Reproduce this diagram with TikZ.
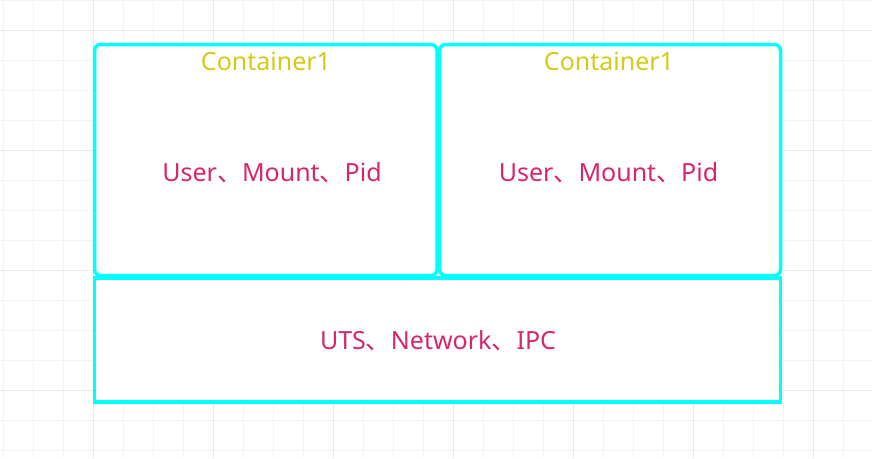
\documentclass[tikz,border=0pt]{standalone}
\usepackage{fontspec}
\setmainfont{Noto Sans}
\newfontfamily\cjk{Noto Sans CJK SC}
\usepackage{xcolor}
\usepackage{tikz}
\usetikzlibrary{positioning}
\definecolor{boxcyan}{RGB}{0,255,255}
\definecolor{titleyellow}{RGB}{212,202,24}
\definecolor{nspink}{RGB}{214,38,110}
\definecolor{gridminor}{RGB}{243,243,243}
\definecolor{gridmajor}{RGB}{232,232,232}
\newcommand{\dun}{{\cjk 、}}
\tikzset{nsbox/.style={draw=boxcyan,line width=3.5pt,rounded corners=6pt,anchor=north west,inner sep=0pt,outer sep=0pt},
  title/.style={text=titleyellow,font=\fontsize{25}{29}\selectfont,inner sep=0pt},
  nstext/.style={text=nspink,font=\fontsize{25}{29}\selectfont,inner sep=0pt}}

\begin{document}
\begin{tikzpicture}[x=1pt,y=-1pt]
        \useasboundingbox (0,0) rectangle (872,458);
        \fill[white] (0,0) rectangle (872,458);
        % grid
        \foreach \gx in {3.3,33.3,...,872} \draw[gridminor,line width=1.5pt] (\gx,0) -- (\gx,458);
        \foreach \gy in {0.7,30.7,...,458} \draw[gridminor,line width=1.5pt] (0,\gy) -- (872,\gy);
        \foreach \gx in {93.3,213.3,...,872} \draw[gridmajor,line width=1.5pt] (\gx,0) -- (\gx,458);
        \foreach \gy in {30.7,150.7,...,458} \draw[gridmajor,line width=1.5pt] (0,\gy) -- (872,\gy);

        \node[nsbox,fill=white,minimum width=342.5pt,minimum height=231pt] (c1) at (94.5,44.5) {};
        \node[nsbox,fill=white,minimum width=341pt,minimum height=231pt] (c2) at (439.5,44.5) {};
        \node[nsbox,fill=white,rounded corners=0pt,minimum width=686pt,minimum height=124pt] (host) at (94.5,278) {};

        \node[title] (t1) at (266,61) {Container1};
        \node[title] (t2) at (609,61) {Container1};
        \node[nstext] (ns1) at (272,173) {User\dun Mount\dun Pid};
        \node[nstext] (ns2) at (608.5,173) {User\dun Mount\dun Pid};
        \node[nstext] (ns3) at (438,341) {UTS\dun Network\dun IPC};
    \end{tikzpicture}
\end{document}
